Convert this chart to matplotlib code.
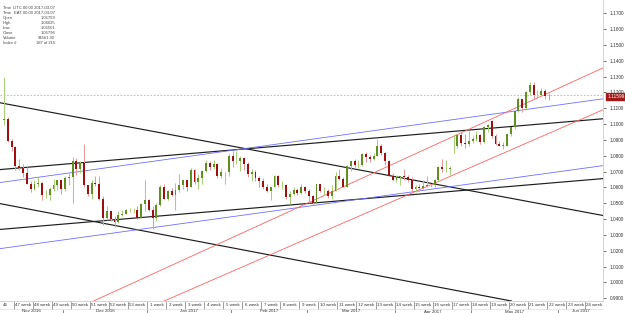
import matplotlib
matplotlib.use('Agg')
import matplotlib.pyplot as plt
import numpy as np
import pandas as pd
from matplotlib.lines import Line2D

plt.rcParams['font.family'] = ['Liberation Sans', 'DejaVu Sans']

# ---------------- data ----------------
first_bar = '2016-11-09'
last_bar = '2017-05-29'
axis_end = '2017-06-16'

opens = [1.1025, 1.1030, 1.0895,
         1.0855, 1.0735, 1.0725, 1.0690, 1.0625,
         1.0590, 1.0625, 1.0630, 1.0550, 1.0555,
         1.0590, 1.0615, 1.0645, 1.0590, 1.0660,
         1.0665, 1.0765, 1.0715, 1.0755, 1.0615,
         1.0560, 1.0630, 1.0625, 1.0530, 1.0410,
         1.0450, 1.0400, 1.0385, 1.0425, 1.0435,
         1.0455, 1.0455, 1.0455, 1.0410, 1.0495,
         1.0520, 1.0460, 1.0405, 1.0490, 1.0605,
         1.0530, 1.0575, 1.0555, 1.0585, 1.0615,
         1.0645, 1.0605, 1.0710, 1.0635, 1.0660,
         1.0705, 1.0755, 1.0730, 1.0750, 1.0675,
         1.0695, 1.0695, 1.0800, 1.0765, 1.0765,
         1.0785, 1.0750, 1.0685, 1.0700, 1.0660,
         1.0640, 1.0600, 1.0575, 1.0605, 1.0675,
         1.0615, 1.0615, 1.0540, 1.0560, 1.0585,
         1.0565, 1.0605, 1.0575, 1.0545, 1.0505,
         1.0620, 1.0576, 1.0580, 1.0545, 1.0580,
         1.0670, 1.0655, 1.0605, 1.0735, 1.0765,
         1.0740, 1.0740, 1.0810, 1.0795, 1.0780,
         1.0800, 1.0865, 1.0815, 1.0765, 1.0675,
         1.0650, 1.0665, 1.0675, 1.0665, 1.0645,
         1.0590, 1.0600, 1.0595, 1.0610, 1.0615,
         1.0615, 1.0645, 1.0730, 1.0715, 1.0715,
         1.0860, 1.0860, 1.0930, 1.0880, 1.0875,
         1.0895, 1.0905, 1.0930, 1.0885, 1.0985,
         1.1020, 1.0925, 1.0875, 1.0865, 1.0865,
         1.0935, 1.0980, 1.1085, 1.1160, 1.1100,
         1.1205, 1.1245, 1.1185, 1.1185, 1.1210,
         1.1180]

highs = [1.1300, 1.1045, 1.0905,
         1.0860, 1.0780, 1.0750, 1.0730, 1.0640,
         1.0645, 1.0665, 1.0635, 1.0585, 1.0600,
         1.0655, 1.0650, 1.0650, 1.0670, 1.0690,
         1.0795, 1.0785, 1.0765, 1.0875, 1.0615,
         1.0650, 1.0670, 1.0670, 1.0545, 1.0480,
         1.0460, 1.0420, 1.0450, 1.0460, 1.0465,
         1.0470, 1.0470, 1.0480, 1.0500, 1.0650,
         1.0525, 1.0485, 1.0500, 1.0615, 1.0620,
         1.0585, 1.0595, 1.0630, 1.0685, 1.0650,
         1.0650, 1.0720, 1.0715, 1.0685, 1.0710,
         1.0775, 1.0770, 1.0775, 1.0755, 1.0725,
         1.0700, 1.0810, 1.0830, 1.0830, 1.0800,
         1.0790, 1.0760, 1.0715, 1.0710, 1.0675,
         1.0660, 1.0620, 1.0605, 1.0680, 1.0680,
         1.0640, 1.0625, 1.0575, 1.0600, 1.0595,
         1.0620, 1.0610, 1.0590, 1.0555, 1.0625,
         1.0625, 1.0603, 1.0590, 1.0615, 1.0700,
         1.0715, 1.0665, 1.0745, 1.0770, 1.0780,
         1.0775, 1.0820, 1.0825, 1.0805, 1.0820,
         1.0905, 1.0875, 1.0825, 1.0775, 1.0690,
         1.0680, 1.0675, 1.0715, 1.0680, 1.0665,
         1.0615, 1.0620, 1.0645, 1.0675, 1.0625,
         1.0655, 1.0735, 1.0780, 1.0775, 1.0735,
         1.0935, 1.0945, 1.0950, 1.0935, 1.0955,
         1.0925, 1.0955, 1.0940, 1.0990, 1.1000,
         1.1025, 1.0935, 1.0895, 1.0890, 1.0935,
         1.0985, 1.1090, 1.1170, 1.1160, 1.1210,
         1.1265, 1.1265, 1.1215, 1.1230, 1.1220,
         1.1195]

lows = [1.0995, 1.0890, 1.0830,
        1.0710, 1.0710, 1.0665, 1.0620, 1.0570,
        1.0585, 1.0600, 1.0520, 1.0535, 1.0520,
        1.0580, 1.0585, 1.0560, 1.0580, 1.0615,
        1.0505, 1.0680, 1.0690, 1.0600, 1.0545,
        1.0530, 1.0610, 1.0520, 1.0365, 1.0395,
        1.0390, 1.0350, 1.0375, 1.0420, 1.0430,
        1.0445, 1.0440, 1.0400, 1.0405, 1.0450,
        1.0450, 1.0340, 1.0390, 1.0480, 1.0525,
        1.0520, 1.0545, 1.0455, 1.0570, 1.0590,
        1.0580, 1.0600, 1.0625, 1.0590, 1.0625,
        1.0700, 1.0710, 1.0715, 1.0660, 1.0660,
        1.0620, 1.0675, 1.0730, 1.0750, 1.0705,
        1.0710, 1.0665, 1.0640, 1.0640, 1.0605,
        1.0590, 1.0570, 1.0520, 1.0605, 1.0600,
        1.0590, 1.0525, 1.0495, 1.0555, 1.0555,
        1.0560, 1.0565, 1.0505, 1.0495, 1.0500,
        1.0570, 1.0550, 1.0535, 1.0525, 1.0575,
        1.0650, 1.0600, 1.0600, 1.0705, 1.0730,
        1.0720, 1.0735, 1.0760, 1.0760, 1.0775,
        1.0800, 1.0805, 1.0745, 1.0675, 1.0640,
        1.0635, 1.0615, 1.0650, 1.0635, 1.0580,
        1.0570, 1.0580, 1.0590, 1.0600, 1.0605,
        1.0605, 1.0640, 1.0700, 1.0700, 1.0680,
        1.0820, 1.0850, 1.0865, 1.0850, 1.0860,
        1.0880, 1.0895, 1.0875, 1.0880, 1.0950,
        1.0910, 1.0870, 1.0860, 1.0840, 1.0860,
        1.0925, 1.0970, 1.1075, 1.1075, 1.1095,
        1.1185, 1.1160, 1.1165, 1.1175, 1.1160,
        1.1155]

closes = [1.1030, 1.0895, 1.0855,
          1.0735, 1.0725, 1.0690, 1.0625, 1.0590,
          1.0625, 1.0630, 1.0550, 1.0555, 1.0590,
          1.0615, 1.0645, 1.0590, 1.0660, 1.0665,
          1.0765, 1.0715, 1.0755, 1.0615, 1.0560,
          1.0630, 1.0625, 1.0530, 1.0410, 1.0450,
          1.0400, 1.0385, 1.0425, 1.0435, 1.0455,
          1.0455, 1.0455, 1.0410, 1.0495, 1.0520,
          1.0460, 1.0405, 1.0490, 1.0605, 1.0530,
          1.0575, 1.0555, 1.0585, 1.0615, 1.0645,
          1.0605, 1.0710, 1.0635, 1.0660, 1.0705,
          1.0755, 1.0730, 1.0750, 1.0675, 1.0695,
          1.0695, 1.0800, 1.0765, 1.0765, 1.0785,
          1.0750, 1.0685, 1.0700, 1.0660, 1.0640,
          1.0600, 1.0575, 1.0605, 1.0675, 1.0615,
          1.0615, 1.0540, 1.0560, 1.0585, 1.0565,
          1.0605, 1.0575, 1.0545, 1.0505, 1.0620,
          1.0580, 1.0580, 1.0545, 1.0580, 1.0670,
          1.0655, 1.0605, 1.0735, 1.0765, 1.0740,
          1.0740, 1.0810, 1.0795, 1.0780, 1.0800,
          1.0865, 1.0815, 1.0765, 1.0675, 1.0650,
          1.0665, 1.0675, 1.0665, 1.0645, 1.0590,
          1.0600, 1.0595, 1.0610, 1.0615, 1.0615,
          1.0645, 1.0730, 1.0715, 1.0715, 1.0725,
          1.0860, 1.0930, 1.0880, 1.0875, 1.0895,
          1.0905, 1.0930, 1.0885, 1.0985, 1.0995,
          1.0925, 1.0875, 1.0865, 1.0865, 1.0935,
          1.0980, 1.1085, 1.1160, 1.1100, 1.1205,
          1.1245, 1.1185, 1.1185, 1.1210, 1.1180,
          1.1178]

# trend lines: two anchor points each (bar index, price)
black_lines = [((-1.05, 1.1135), (157.2, 1.0423)),
               ((-1.05, 1.0713), (157.2, 1.1034)),
               ((-1.05, 1.0335), (157.2, 1.0656)),
               ((-1.05, 1.0498), (133.6, 0.9881))]
blue_lines = [((-1.05, 1.0631), (157.2, 1.1160)),
              ((16.54, 1.0272), (157.2, 1.0738))]
red_lines = [((81.1, 1.0517), (157.2, 1.1355)),
             ((103.15, 1.0524), (157.2, 1.1091))]

price_line = 1.1182
price_label = '1.11599'

y_ticks = [1.17, 1.16, 1.15, 1.14, 1.13, 1.12, 1.11, 1.10, 1.09, 1.08,
           1.07, 1.06, 1.05, 1.04, 1.03, 1.02, 1.01, 1.00, 0.99]

info_rows = [('Time', 'UTC 00:00 2017-03-07'),
             ('Time', 'EAT 00:00 2017-03-07'),
             ('Open', '1.05759'),
             ('High', '1.06025'),
             ('Low', '1.05501'),
             ('Close', '1.05796'),
             ('Volume', '94561.30'),
             ('Index #', '187 of 215')]

# ---------------- figure ----------------
W, H = 625, 313
fig = plt.figure(figsize=(W / 100, H / 100), dpi=100)
fig.patch.set_facecolor('white')
ax_bottom_px = 12
ax_right_px = 603
ax = fig.add_axes([0, ax_bottom_px / H, ax_right_px / W, (H - ax_bottom_px) / H])
ax.set_facecolor('white')

XMIN, XMAX = -1.05, 157.2
YMIN, YMAX = 0.9883, 1.1784
ax.set_xlim(XMIN, XMAX)
ax.set_ylim(YMIN, YMAX)

o = np.array(opens); h = np.array(highs); l = np.array(lows); c = np.array(closes)
x = np.arange(len(c))
bull = c >= o

BULL_BODY, BULL_WICK = '#5f8f1e', '#a9cf78'
BEAR_BODY, BEAR_WICK = '#9e1010', '#e49a9a'

ax.vlines(x[bull], l[bull], h[bull], color=BULL_WICK, lw=0.75, zorder=3)
ax.vlines(x[~bull], l[~bull], h[~bull], color=BEAR_WICK, lw=0.75, zorder=3)
body_h = np.maximum(np.abs(c - o), 0.00012)
body_b = np.minimum(o, c)
ax.bar(x[bull], body_h[bull], bottom=body_b[bull], width=0.5, color=BULL_BODY, lw=0, zorder=4)
ax.bar(x[~bull], body_h[~bull], bottom=body_b[~bull], width=0.5, color=BEAR_BODY, lw=0, zorder=4)

for p1, p2 in black_lines:
    ax.axline(p1, p2, color='#1e1e1e', lw=0.85, zorder=2)
for p1, p2 in blue_lines:
    ax.axline(p1, p2, color='#6f6fff', lw=0.6, zorder=2)
for p1, p2 in red_lines:
    ax.axline(p1, p2, color='#ff6262', lw=0.6, zorder=2)

ax.axhline(price_line, color='#b5b5b5', lw=0.6, ls=(0, (2, 2)), zorder=1)

# y axis on right
ax.yaxis.tick_right()
ax.set_yticks(y_ticks)
ax.set_yticklabels([f'{v:.4f}' for v in y_ticks])
ax.tick_params(axis='y', direction='out', length=2.5, width=0.6, color='#555555',
               labelsize=3.4, labelcolor='#333333', pad=2.5)
ax.tick_params(axis='x', bottom=False, labelbottom=False)
for s in ['top', 'left']:
    ax.spines[s].set_visible(False)
ax.spines['right'].set_color('#cfcfcf')
ax.spines['right'].set_linewidth(0.6)
ax.spines['bottom'].set_color('#cfcfcf')
ax.spines['bottom'].set_linewidth(0.6)

# current price box
ax.annotate(price_label, xy=(1.0, price_line), xycoords=('axes fraction', 'data'),
            xytext=(3, -0.9), textcoords='offset points', fontsize=3.4, color='white',
            va='center', ha='left', annotation_clip=False, zorder=10,
            bbox=dict(boxstyle='square,pad=0.22', fc='#a31818', ec='#a31818'))

# ---------------- time axis labels ----------------
days = pd.bdate_range('2016-11-07', axis_end)
offset = int(np.where(days == pd.Timestamp(first_bar))[0][0])
idx = np.arange(len(days)) - offset
trans = ax.get_xaxis_transform()
ax_h_px = H - ax_bottom_px
def fy(py):
    return -(py - ax_h_px) / ax_h_px

def week_no(d):
    jan1 = pd.Timestamp(year=d.year, month=1, day=1)
    sun_wd = (jan1.weekday() + 1) % 7
    return (d.dayofyear - 1 + sun_wd) // 7 + 1

# week boxes
mondays = [i for i, d in zip(idx, days) if d.weekday() == 0]
bounds = [XMIN] + [m - 0.5 for m in mondays if XMIN < m - 0.5 < XMAX] + [XMAX]
for b in bounds[1:-1]:
    ax.add_line(Line2D([b, b], [fy(302), fy(309)], transform=trans, color='#777777',
                       lw=0.5, clip_on=False))
for a, b in zip(bounds[:-1], bounds[1:]):
    mid = (a + b) / 2
    d = days[int(np.argmin(np.abs(idx - mid)))]
    wn = week_no(d)
    if b - a < 4:
        ax.text(a + 0.9, fy(305.5), f'{wn}', transform=trans, fontsize=3.2,
                color='#333333', ha='left', va='center', clip_on=False)
    else:
        ax.text(mid, fy(305.5), f'{wn} week', transform=trans, fontsize=3.2,
                color='#333333', ha='center', va='center', clip_on=False)
ax.add_line(Line2D([XMIN, XMAX], [fy(309), fy(309)], transform=trans, color='#dddddd',
                   lw=0.5, clip_on=False))

# month labels
firsts = [i for k, (i, d) in enumerate(zip(idx, days)) if k == 0 or d.month != days[k - 1].month]
mb = [XMIN] + [f - 0.5 for f in firsts if XMIN < f - 0.5 < XMAX] + [XMAX]
for b in mb[1:-1]:
    ax.add_line(Line2D([b, b], [fy(309.5), fy(313)], transform=trans, color='#555555',
                       lw=0.5, clip_on=False))
for a, b in zip(mb[:-1], mb[1:]):
    mid = (a + b) / 2
    d = days[int(np.argmin(np.abs(idx - mid)))]
    ax.text(mid, fy(311.5), d.strftime('%b %Y'), transform=trans, fontsize=3.2,
            color='#333333', ha='center', va='center', clip_on=False)

# ---------------- info panel ----------------
for k, (lab, val) in enumerate(info_rows):
    ypx = 8.3 + 5.0 * k
    fig.text(3 / W, 1 - ypx / H, lab, fontsize=3.0, color='#444444', ha='left', va='center')
    fig.text(55 / W, 1 - ypx / H, val, fontsize=3.0, color='#444444', ha='right', va='center')

fig.savefig('out.png', dpi=100)
